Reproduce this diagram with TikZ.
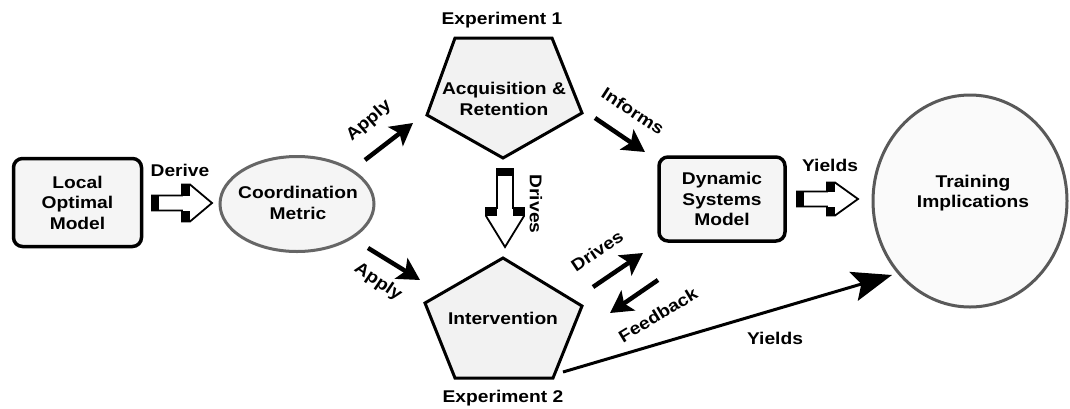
\documentclass[tikz,border=0pt]{standalone}
\usepackage{fontspec}
\setmainfont{Liberation Sans}[FakeStretch=1.13]
\usetikzlibrary{arrows.meta,shapes.geometric}
\begin{document}
\begin{tikzpicture}[x=1pt,y=-1pt,
  font=\fontsize{17}{20.5}\selectfont\bfseries,
  txt/.style={align=center,inner sep=0pt},
  rbox/.style={draw,line width=3.5pt,rounded corners=9pt,fill=black!4,
               align=center,inner sep=0pt},
  pentagon/.style={draw,line width=3pt,fill=black!5,line join=miter},
  oval/.style={ellipse,draw=black!60,line width=3pt,fill=black!4,inner sep=0pt},
  bigarrow/.style={line width=4.5pt,-{Stealth[length=22pt,width=24pt,inset=5pt]}},
  longarrow/.style={line width=3pt,-{Stealth[length=40pt,width=30pt,inset=8pt]}},
  pics/blockarr/.style n args={4}{code={
    % #1 length, #2 shaft half width, #3 head half width, #4 start of head
    \filldraw[fill=white,line width=1.8pt,line join=miter]
      (0,-#2) -- (#4,-#2) -- (#4,-#3) -- (#4+8,-#3) -- (#1,0)
      -- (#4+8,#3) -- (#4,#3) -- (#4,#2) -- (0,#2) -- cycle;
    \fill (0,-#2) rectangle (7,#2);
    \fill (#4,#2) rectangle (#4+8,#3);
    \fill (#4,-#2) rectangle (#4+8,-#3);
  }}]
\useasboundingbox (0,0) rectangle (1070,408);
\fill[white] (0,0) rectangle (1070,408);

% --- main nodes ---
\node[rbox,minimum width=128pt,minimum height=88pt] (lom) at (77.5,202.5)
  {Local\\Optimal\\Model};
\node[oval,minimum width=154pt,minimum height=95pt] (cm) at (297,204) {};
\node[txt] (cmtxt) at (298,203) {Coordination\\Metric};

\coordinate (arTL) at (455,38);
\coordinate (arTR) at (552,38);
\coordinate (arR)  at (582,113);
\coordinate (arB)  at (503,158);
\coordinate (arL)  at (427,115);
\draw[pentagon] (arTL) -- (arTR) -- (arR) -- (arB) -- (arL) -- cycle;
\node[txt] (ar) at (504,99) {Acquisition \&\\Retention};
\node[txt] (exp1) at (502,20) {Experiment 1};

\coordinate (ivT)  at (503,258);
\coordinate (ivR)  at (582,306);
\coordinate (ivBR) at (553,378);
\coordinate (ivBL) at (455,378);
\coordinate (ivL)  at (425,303);
\draw[pentagon] (ivT) -- (ivR) -- (ivBR) -- (ivBL) -- (ivL) -- cycle;
\node[txt] (iv) at (503,318) {Intervention};
\node[txt] (exp2) at (503,398) {Experiment 2};

\node[rbox,minimum width=126pt,minimum height=84pt] (dsm) at (722,199)
  {Dynamic\\Systems\\Model};

\node[ellipse,draw=black!65,line width=3pt,fill=black!2,
      minimum width=194pt,minimum height=212pt] (ti) at (970,201) {};
\node[txt] (titxt) at (973,193) {Training\\Implications};

% --- hollow block arrows ---
\coordinate (deriveTail) at (152,203);
\pic at (deriveTail) {blockarr={60}{7.5}{18.5}{30}};
\node[txt] (derive) at (180,170) {Derive};

\coordinate (drivesTail) at (505,169);
\pic[rotate=-90] at (drivesTail) {blockarr={78}{8}{19}{39}};
\node[txt,rotate=-90] (drivesV) at (536,204) {Drives};

\coordinate (yieldsTail) at (797,199);
\pic at (yieldsTail) {blockarr={61}{7.5}{16.5}{30}};
\node[txt] (yieldsTop) at (830,165) {Yields};

% --- solid arrows ---
\coordinate (apUs) at (365,160);  \coordinate (apUe) at (413,123);
\draw[bigarrow] (apUs) -- (apUe);
\node[txt,rotate=41] (applyU) at (369,121) {Apply};

\coordinate (apLs) at (368,248);  \coordinate (apLe) at (420,280);
\draw[bigarrow] (apLs) -- (apLe);
\node[txt,rotate=-34] (applyL) at (378,282) {Apply};

\coordinate (infS) at (595,118);  \coordinate (infE) at (645,152);
\draw[bigarrow] (infS) -- (infE);
\node[txt,rotate=-33] (informs) at (633,111) {Informs};

\coordinate (drS) at (593,287);   \coordinate (drE) at (643,253);
\draw[bigarrow] (drS) -- (drE);
\node[txt,rotate=34] (drives) at (597,251) {Drives};

\coordinate (fbS) at (658,280);   \coordinate (fbE) at (610,313);
\draw[bigarrow] (fbS) -- (fbE);
\node[txt,rotate=31] (feedback) at (658,315) {Feedback};

\coordinate (ylS) at (563,372);   \coordinate (ylE) at (892,275);
\draw[longarrow] (ylS) -- (ylE);
\node[txt] (yieldsLow) at (775,338) {Yields};
\end{tikzpicture}
\end{document}
